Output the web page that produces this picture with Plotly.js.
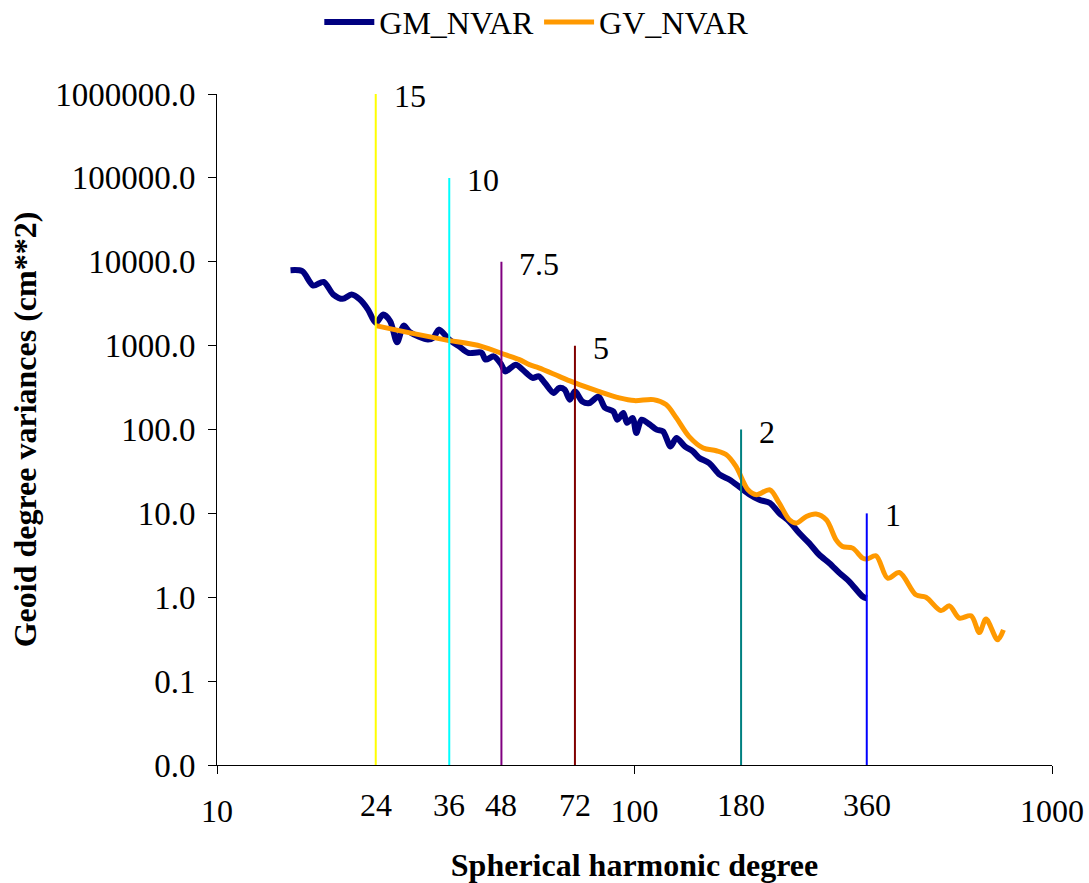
<!DOCTYPE html>
<html>
<head>
<meta charset="utf-8">
<script src="https://cdn.plot.ly/plotly-3.0.1.min.js"></script>
<style>html,body{margin:0;padding:0;background:#fff}#chart{width:1089px;height:883px}</style>
</head>
<body>
<div id="chart"></div>
<script>
// GM_NVAR (navy) degree variances
var gmDeg = [15,16,17,18,19,20,21,22,23,24,25,26,27,28,29,32,33,34,36,38,40,43,44,46,48,49,52,55,57,59,61,64,66,68,70,72,75,78,82,85,89,91,94,96,99,101,104,109,113,117,122,126,132,138,143,151,160,169,178,189,199,211,222,235,248,262,277,293,310,327,352,360];
var gmVal = [7920,7710,5200,5750,4060,3610,4060,3540,2690,1866,2344,1950,1095,1733,1442,1180,1246,1552,1180,981,818,825,681,745,593,493,593,472,412,430,359,273,313,299,227,285,216,207,248,181,164,131,157,120,137,90.8,131,114,99.5,94.9,62.9,79.2,62.9,54.8,45.7,39.8,28.9,25.2,20.9,16.7,14.5,13.3,10.1,8.0,5.82,4.42,3.21,2.55,1.94,1.54,1.02,0.97];

// GV_NVAR (orange) degree variances
var gvDeg = [24,29,35,43,49,53,56,59,66,72,82,92,100,111,119,126,135,146,157,166,175,187,196,211,222,235,244,258,272,288,304,315,333,352,360,379,404,431,472,499,542,568,600,640,670,695,741,765];
var gvVal = [1733,1419,1180,981,781,681,593,542,430,359,285,238,221,227,198,137,82.8,60.1,55.8,50.0,36.3,19.1,16.7,19.1,13.3,8.39,7.66,9.18,9.81,8.39,4.84,4.03,3.85,2.93,2.85,3.12,1.69,1.97,1.07,1.00,0.693,0.789,0.564,0.600,0.380,0.549,0.311,0.408];

// Marker degree lines
var markDeg = [24,36,48,72,180,360];
var markTop = [1000000,100000,10000,1000,100,10];
var markLabel = ['15','10','7.5','5','2','1'];
var markColor = ['#FFFF00','#00FFFF','#800080','#800000','#008080','#0000FF'];

// Axis ticks
var xTickVals = [10,100,1000];
var xTickText = ['10','100','1000'];
var xExtraTicks = [24,36,48,72,180,360];
var yTickVals = [0.01,0.1,1,10,100,1000,10000,100000,1000000];
var yTickText = ['0.0','0.1','1.0','10.0','100.0','1000.0','10000.0','100000.0','1000000.0'];

var FONT = '"Liberation Serif", "Times New Roman", Times, serif';
var FS = 32;

var traces = [
  {x: gmDeg, y: gmVal, name: 'GM_NVAR', mode: 'lines',
   line: {color: '#000080', width: 6, shape: 'spline', smoothing: 0.8}},
  {x: gvDeg, y: gvVal, name: 'GV_NVAR', mode: 'lines',
   line: {color: '#FF9900', width: 5, shape: 'spline', smoothing: 0.9}}
];
var annotations = [];
for (var i = 0; i < markDeg.length; i++) {
  traces.push({x: [markDeg[i], markDeg[i]], y: [0.01, markTop[i]], mode: 'lines',
    showlegend: false, hoverinfo: 'skip', line: {color: markColor[i], width: 2}});
  annotations.push({x: Math.log10(markDeg[i]), y: Math.log10(markTop[i]), xref: 'x', yref: 'y',
    text: markLabel[i], showarrow: false, xanchor: 'left', yanchor: 'middle', xshift: 16, yshift: -2,
    font: {family: FONT, size: FS, color: '#000'}});
}
for (var j = 0; j < xExtraTicks.length; j++) {
  annotations.push({x: Math.log10(xExtraTicks[j]), y: 0, xref: 'x', yref: 'paper',
    text: String(xExtraTicks[j]), showarrow: false, xanchor: 'center', yanchor: 'middle', yshift: -40,
    font: {family: FONT, size: FS, color: '#000'}});
}

var layout = {
  width: 1089, height: 883,
  margin: {l: 217, r: 37, t: 94, b: 118},
  paper_bgcolor: '#fff', plot_bgcolor: '#fff',
  font: {family: FONT, size: FS, color: '#000'},
  showlegend: true,
  legend: {orientation: 'h', x: 0.383, xanchor: 'center', y: 0.975, yref: 'container', yanchor: 'middle',
    font: {family: FONT, size: FS, color: '#000'}, itemwidth: 50},
  xaxis: {type: 'log', range: [1, 3], showgrid: false, zeroline: false,
    showline: true, linecolor: '#000', linewidth: 1,
    ticks: 'outside', ticklen: 8, tickcolor: '#000', tickwidth: 1,
    tickvals: xTickVals, ticktext: xTickText, ticklabelstandoff: 10,
    tickfont: {family: FONT, size: FS, color: '#000'},
    title: {text: '<b>Spherical harmonic degree</b>', font: {family: FONT, size: FS, color: '#000'}, standoff: 26}},
  yaxis: {type: 'log', range: [-2, 6], showgrid: false, zeroline: false,
    showline: true, linecolor: '#000', linewidth: 1,
    ticks: 'outside', ticklen: 8, tickcolor: '#000', tickwidth: 1,
    tickvals: yTickVals, ticktext: yTickText, ticklabelstandoff: 6,
    tickfont: {family: FONT, size: 33, color: '#000'},
    title: {text: '<b>Geoid degree variances (cm**2)</b>', font: {family: FONT, size: FS, color: '#000'}, standoff: 8}},
  annotations: annotations
};

Plotly.newPlot('chart', traces, layout, {displayModeBar: false, staticPlot: true});
</script>
</body>
</html>
